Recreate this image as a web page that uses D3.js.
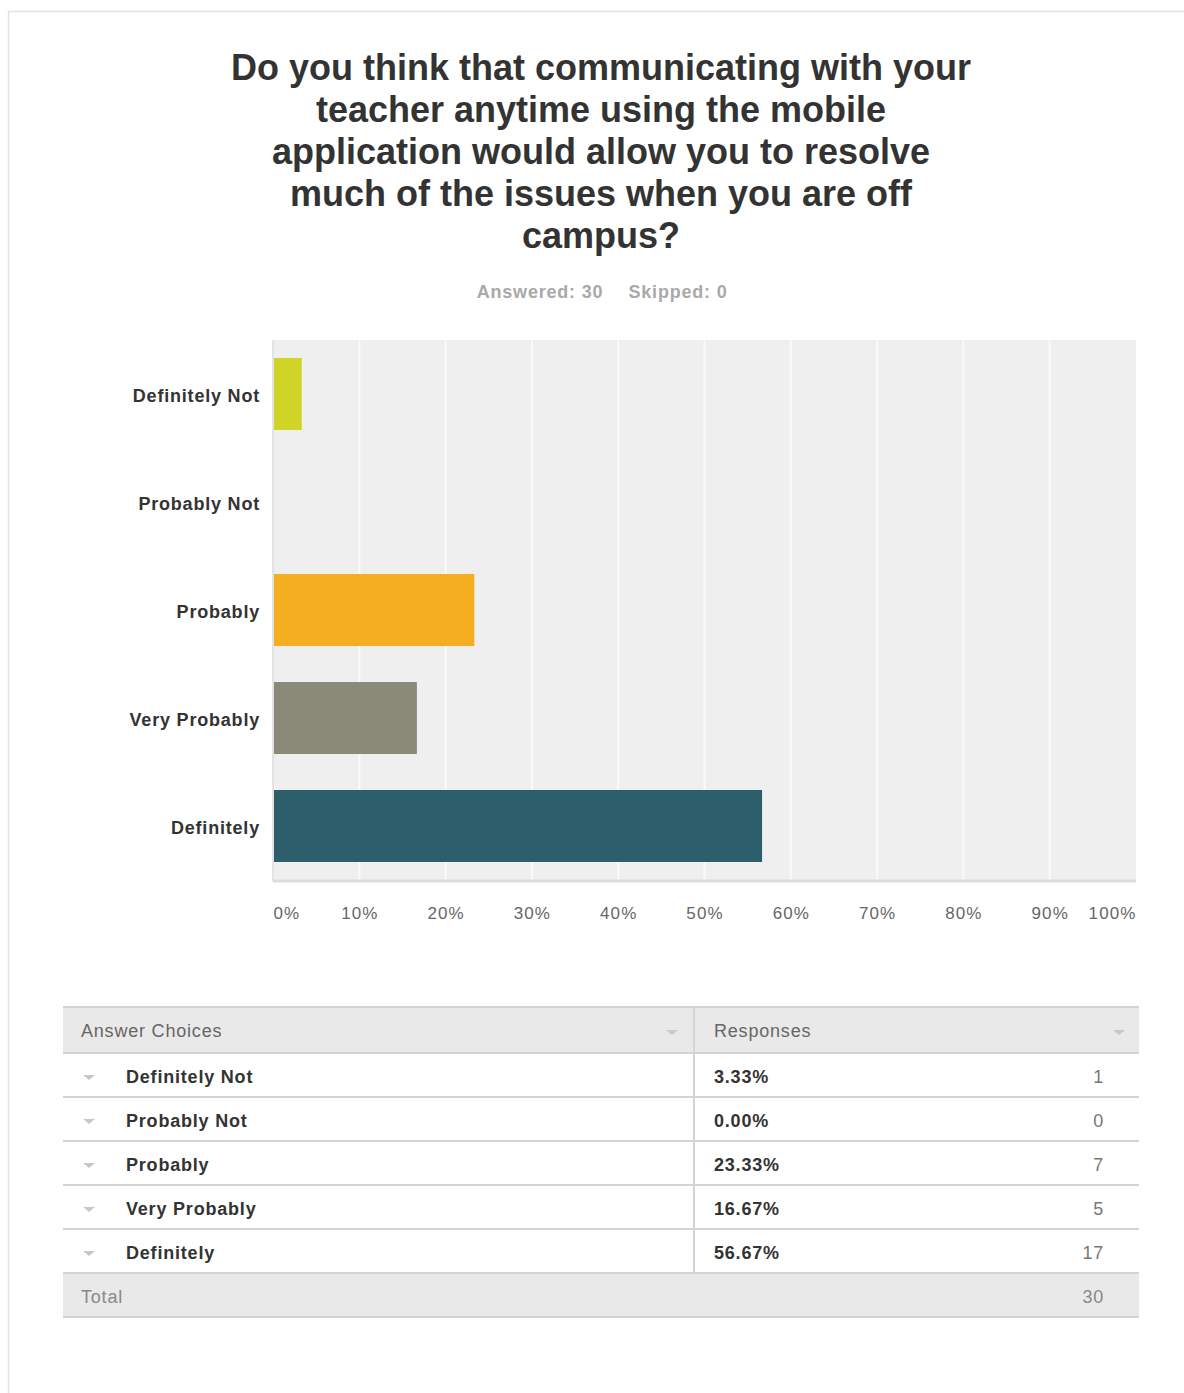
<!DOCTYPE html>
<html>
<head>
<meta charset="utf-8">
<script src="https://cdn.jsdelivr.net/npm/d3@7"></script>
<style>
  html, body { margin: 0; padding: 0; background: #fff; }
  svg { display: block; font-family: "Liberation Sans", Arial, Helvetica, sans-serif; }
</style>
</head>
<body>
<svg id="chart" width="1184" height="1393"></svg>
<script>
// Survey question and summary
const titleLines = [
  "Do you think that communicating with your",
  "teacher anytime using the mobile",
  "application would allow you to resolve",
  "much of the issues when you are off",
  "campus?"
];
const answered = 30;
const skipped = 0;

// Answer choices, shares (%) and counts
const choices = ["Definitely Not", "Probably Not", "Probably", "Very Probably", "Definitely"];
const percents = [3.33, 0.00, 23.33, 16.67, 56.67];
const counts = [1, 0, 7, 5, 17];
const barColors = ["#cfd427", "#c9c9c9", "#f5ae1f", "#898a78", "#2d5e6b"];
const xTicks = [0, 10, 20, 30, 40, 50, 60, 70, 80, 90, 100];

const svg = d3.select("#chart");
const LS = 0.8; // letter spacing for body text

// outer panel frame
svg.append("rect")
  .attr("x", 8.5).attr("y", 11.5).attr("width", 1200).attr("height", 1400)
  .attr("fill", "#fff").attr("stroke", "#e3e3e3").attr("stroke-width", 1.5);

// title
const title = svg.append("text")
  .attr("text-anchor", "middle")
  .attr("font-size", 36).attr("font-weight", "bold").attr("fill", "#333");
titleLines.forEach((line, i) => {
  title.append("tspan").attr("x", 601).attr("y", 80 + i * 42).text(line);
});

// answered / skipped summary
svg.append("text")
  .attr("x", 540).attr("y", 298).attr("text-anchor", "middle")
  .attr("font-size", 18).attr("font-weight", "bold").attr("fill", "#a9a9a9")
  .attr("letter-spacing", LS)
  .text(`Answered: ${answered}`);
svg.append("text")
  .attr("x", 678).attr("y", 298).attr("text-anchor", "middle")
  .attr("font-size", 18).attr("font-weight", "bold").attr("fill", "#a9a9a9")
  .attr("letter-spacing", LS)
  .text(`Skipped: ${skipped}`);

// bar chart
const plot = { left: 273, right: 1136, top: 340, bottom: 880 };
const x = d3.scaleLinear().domain([0, 100]).range([plot.left, plot.right]);
const y = d3.scaleBand().domain(choices).range([plot.top, plot.bottom])
  .paddingInner(1 / 3).paddingOuter(1 / 6);

const g = svg.append("g");
g.append("rect")
  .attr("x", plot.left).attr("y", plot.top)
  .attr("width", plot.right - plot.left).attr("height", plot.bottom - plot.top)
  .attr("fill", "#efefef");

// vertical gridlines
g.selectAll("line.grid")
  .data(xTicks.filter(t => t > 0 && t < 100))
  .join("line").attr("class", "grid")
  .attr("x1", d => x(d)).attr("x2", d => x(d))
  .attr("y1", plot.top).attr("y2", plot.bottom)
  .attr("stroke", "#fafafa").attr("stroke-width", 2);

// axis lines
g.append("line")
  .attr("x1", plot.left).attr("x2", plot.left)
  .attr("y1", plot.top).attr("y2", plot.bottom + 1)
  .attr("stroke", "#dcdcdc").attr("stroke-width", 1.5);
g.append("line")
  .attr("x1", plot.left).attr("x2", plot.right)
  .attr("y1", plot.bottom + 1).attr("y2", plot.bottom + 1)
  .attr("stroke", "#dcdcdc").attr("stroke-width", 3);

// bars
g.selectAll("rect.bar")
  .data(choices)
  .join("rect").attr("class", "bar")
  .attr("x", x(0) + 1)
  .attr("y", d => y(d))
  .attr("width", (d, i) => Math.max(0, x(percents[i]) - x(0) - 1))
  .attr("height", y.bandwidth())
  .attr("fill", (d, i) => barColors[i]);

// category axis
const yAxis = d3.axisLeft(y).tickSize(0).tickPadding(13);
const yG = svg.append("g").attr("transform", `translate(${plot.left},0)`).call(yAxis);
yG.select(".domain").remove();
yG.selectAll("text")
  .attr("font-size", 18).attr("font-weight", "bold").attr("fill", "#333")
  .attr("letter-spacing", LS).attr("dy", "0.42em")
  .attr("font-family", "Liberation Sans, Arial, sans-serif");

// percentage axis
const xAxis = d3.axisBottom(x).tickValues(xTicks).tickSize(0).tickPadding(27)
  .tickFormat(d => d + "%");
const xG = svg.append("g").attr("transform", `translate(0,${plot.bottom})`).call(xAxis);
xG.select(".domain").remove();
xG.selectAll("text")
  .attr("font-size", 17).attr("fill", "#666").attr("letter-spacing", 1.1)
  .attr("font-family", "Liberation Sans, Arial, sans-serif")
  .attr("text-anchor", d => d === 0 ? "start" : d === 100 ? "end" : "middle");

// response table
const tbl = { left: 63, right: 1139, mid: 694, top: 1007, headH: 46, rowH: 44 };
const rowY = d3.scaleBand().domain(choices)
  .range([tbl.top + tbl.headH, tbl.top + tbl.headH + tbl.rowH * choices.length]);
const totalTop = tbl.top + tbl.headH + tbl.rowH * choices.length;

const t = svg.append("g").attr("letter-spacing", LS);
// header and total backgrounds
t.append("rect").attr("x", tbl.left).attr("y", tbl.top)
  .attr("width", tbl.right - tbl.left).attr("height", tbl.headH).attr("fill", "#e9e9e9");
t.append("rect").attr("x", tbl.left).attr("y", totalTop)
  .attr("width", tbl.right - tbl.left).attr("height", tbl.rowH).attr("fill", "#e9e9e9");

// horizontal rules
const rules = [tbl.top, tbl.top + tbl.headH, ...choices.map(c => rowY(c) + tbl.rowH), totalTop + tbl.rowH];
t.selectAll("line.rule").data(rules).join("line").attr("class", "rule")
  .attr("x1", tbl.left).attr("x2", tbl.right)
  .attr("y1", d => d).attr("y2", d => d)
  .attr("stroke", "#d4d4d4").attr("stroke-width", 2);
// column divider
t.append("line")
  .attr("x1", tbl.mid).attr("x2", tbl.mid)
  .attr("y1", tbl.top).attr("y2", totalTop)
  .attr("stroke", "#d4d4d4").attr("stroke-width", 2);

// header labels and sort arrows
t.append("text").attr("x", 81).attr("y", tbl.top + 30)
  .attr("font-size", 18).attr("fill", "#666").text("Answer Choices");
t.append("text").attr("x", 714).attr("y", tbl.top + 30)
  .attr("font-size", 18).attr("fill", "#666").text("Responses");
const arrow = (cx, cy) => `M${cx - 6},${cy - 2}L${cx + 6},${cy - 2}L${cx},${cy + 3}Z`;
[672, 1119].forEach(cx => {
  t.append("path").attr("d", arrow(cx, tbl.top + 25)).attr("fill", "#c8c8c8");
});

// rows
const rows = t.selectAll("g.row").data(choices).join("g").attr("class", "row")
  .attr("transform", d => `translate(0,${rowY(d)})`);
rows.append("path").attr("d", arrow(89, 24)).attr("fill", "#c8c8c8");
rows.append("text").attr("x", 126).attr("y", 30)
  .attr("font-size", 18).attr("font-weight", "bold").attr("fill", "#333")
  .text(d => d);
rows.append("text").attr("x", 714).attr("y", 30)
  .attr("font-size", 18).attr("font-weight", "bold").attr("fill", "#333")
  .text((d, i) => percents[i].toFixed(2) + "%");
rows.append("text").attr("x", 1104).attr("y", 30).attr("text-anchor", "end")
  .attr("font-size", 18).attr("fill", "#777")
  .text((d, i) => counts[i]);

// total row
t.append("text").attr("x", 81).attr("y", totalTop + 30)
  .attr("font-size", 18).attr("fill", "#888").text("Total");
t.append("text").attr("x", 1104).attr("y", totalTop + 30).attr("text-anchor", "end")
  .attr("font-size", 18).attr("fill", "#888").text(d3.sum(counts));
</script>
</body>
</html>
